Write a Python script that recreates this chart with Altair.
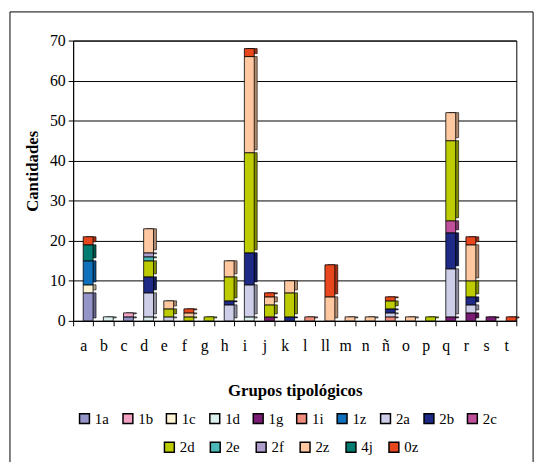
import altair as alt
import pandas as pd

categories = ["a", "b", "c", "d", "e", "f", "g", "h", "i", "j", "k", "l", "ll",
              "m", "n", "ñ", "o", "p", "q", "r", "s", "t"]
series = ["1a", "1b", "1c", "1d", "1g", "1i", "1z", "2a", "2b", "2c",
          "2d", "2e", "2f", "2z", "4j", "0z"]
colors = ["#9494C8", "#F2A2C4", "#FFF4D6", "#DDF1EE", "#7B1C74", "#F08C7C",
          "#1070BC", "#CECEE8", "#1E2A86", "#C0509C", "#BCCC00", "#4DB8B8",
          "#AE9CCB", "#FFC8A0", "#007C70", "#E8471E"]

#            a  b  c  d  e  f  g  h  i  j  k  l ll  m  n  ñ  o  p  q  r  s  t
v_1a = [7, 0, 1, 0, 0, 0, 0, 0, 0, 0, 0, 0, 0, 0, 0, 0, 0, 0, 0, 0, 0, 0]
v_1b = [0, 0, 1, 0, 0, 0, 0, 0, 0, 0, 0, 0, 0, 0, 0, 0, 0, 0, 0, 0, 0, 0]
v_1c = [2, 0, 0, 0, 0, 0, 0, 0, 0, 0, 0, 0, 0, 0, 0, 0, 0, 0, 0, 0, 0, 0]
v_1d = [0, 1, 0, 1, 0, 0, 0, 0, 1, 0, 0, 0, 0, 0, 0, 0, 0, 0, 0, 0, 0, 0]
v_1g = [0, 0, 0, 0, 0, 0, 0, 0, 0, 1, 0, 0, 0, 0, 0, 0, 0, 0, 1, 2, 1, 0]
v_1i = [0, 0, 0, 0, 0, 0, 0, 0, 0, 0, 0, 1, 0, 0, 0, 1, 0, 0, 0, 0, 0, 0]
v_1z = [6, 0, 0, 0, 0, 0, 0, 0, 0, 0, 0, 0, 0, 0, 0, 0, 0, 0, 0, 0, 0, 0]
v_2a = [0, 0, 0, 6, 1, 0, 0, 4, 8, 0, 0, 0, 0, 0, 0, 1, 0, 0, 12, 2, 0, 0]
v_2b = [0, 0, 0, 4, 0, 0, 0, 1, 8, 0, 1, 0, 0, 0, 0, 1, 0, 0, 9, 2, 0, 0]
v_2c = [0, 0, 0, 0, 0, 0, 0, 0, 0, 0, 0, 0, 0, 0, 0, 0, 0, 0, 3, 0, 0, 0]
v_2d = [0, 0, 0, 4, 2, 1, 1, 6, 25, 3, 6, 0, 0, 0, 0, 2, 0, 1, 20, 4, 0, 0]
v_2e = [0, 0, 0, 1, 0, 0, 0, 0, 0, 0, 0, 0, 0, 0, 0, 0, 0, 0, 0, 0, 0, 0]
v_2f = [0, 0, 0, 1, 0, 0, 0, 0, 0, 0, 0, 0, 0, 0, 0, 0, 0, 0, 0, 0, 0, 0]
v_2z = [0, 0, 0, 6, 2, 1, 0, 4, 24, 2, 3, 0, 6, 1, 1, 0, 1, 0, 7, 9, 0, 0]
v_4j = [4, 0, 0, 0, 0, 0, 0, 0, 0, 0, 0, 0, 0, 0, 0, 0, 0, 0, 0, 0, 0, 0]
v_0z = [2, 0, 0, 0, 0, 1, 0, 0, 2, 1, 0, 0, 8, 0, 0, 1, 0, 0, 0, 2, 0, 1]

values = [v_1a, v_1b, v_1c, v_1d, v_1g, v_1i, v_1z, v_2a, v_2b, v_2c,
          v_2d, v_2e, v_2f, v_2z, v_4j, v_0z]

rows = []
for si, s in enumerate(series):
    for ci, c in enumerate(categories):
        v = values[si][ci]
        if v > 0:
            rows.append({"cat": c, "serie": s, "orden": si, "valor": v})
df = pd.DataFrame(rows)

FONT = "Liberation Serif"
NA = 10
ser_a, col_a = series[:NA], colors[:NA]
ser_b, col_b = series[NA:], colors[NA:]

base = alt.Chart(df).transform_stack(
    stack="valor", groupby=["cat"], as_=["v0", "v1"],
    sort=[alt.SortField("orden", order="ascending")]
)

x_axis = alt.Axis(
    title="Grupos tipológicos", labelAngle=0, labelFont=FONT, labelFontSize=16,
    labelColor="black", tickBand="extent", tickSize=5, tickColor="black",
    domainColor="black", labelPadding=12, titleFont=FONT, titleFontSize=17,
    titleFontWeight="bold", titleColor="black", titlePadding=30,
)
y_axis = alt.Axis(
    values=[0, 10, 20, 30, 40, 50, 60, 70], title="Cantidades", grid=True,
    gridColor="black", gridWidth=1, domainColor="black", tickColor="black",
    tickSize=5, labelFont=FONT, labelFontSize=16, labelColor="black",
    labelPadding=3, titleFont=FONT, titleFontSize=17, titleFontWeight="bold",
    titleColor="black", titleX=-41, titleY=132, titleAlign="center",
    titleBaseline="middle", titleAngle=-90,
)

x_enc = alt.X("cat:N", sort=categories,
              scale=alt.Scale(paddingInner=0, paddingOuter=0), axis=x_axis)
y_enc = alt.Y("v0:Q", scale=alt.Scale(domain=[0, 70]), axis=y_axis)
y2_enc = alt.Y2("v1:Q")


def legend(lx, ly, cpad):
    return alt.Legend(
        orient="none", legendX=lx, legendY=ly, direction="horizontal",
        columns=10, gridAlign="none", title=None, symbolType="square",
        symbolSize=100, symbolStrokeColor="black", symbolStrokeWidth=1.5,
        symbolOpacity=1, labelFont=FONT, labelFontSize=15, labelColor="black",
        labelOffset=3, columnPadding=cpad, padding=0, labelLimit=30,
    )


def color_a(lg):
    return alt.Color("serie:N", scale=alt.Scale(domain=ser_a, range=col_a),
                     sort=ser_a, legend=lg)


def color_b(lg):
    return alt.Color("serie:N", scale=alt.Scale(domain=ser_b, range=col_b),
                     sort=ser_b, legend=lg)


filt_a = alt.datum.orden < NA
filt_b = alt.datum.orden >= NA

back_a = base.transform_filter(filt_a).mark_bar(
    width=10, xOffset=8, yOffset=-3, stroke="black", strokeWidth=0.6
).encode(x=x_enc, y=y_enc, y2=y2_enc, color=color_a(None))
back_b = base.transform_filter(filt_b).mark_bar(
    width=10, xOffset=8, yOffset=-3, stroke="black", strokeWidth=0.6
).encode(x=x_enc, y=y_enc, y2=y2_enc, color=color_b(None))
shade = base.mark_bar(
    width=10, xOffset=8, yOffset=-3, color="black", opacity=0.3
).encode(x=x_enc, y=y_enc, y2=y2_enc)
front_a = base.transform_filter(filt_a).mark_bar(
    width=10, xOffset=5, stroke="black", strokeWidth=0.8
).encode(x=x_enc, y=y_enc, y2=y2_enc, color=color_a(legend(4, 375.5, 10)))
front_b = base.transform_filter(filt_b).mark_bar(
    width=10, xOffset=5, stroke="black", strokeWidth=0.8
).encode(x=x_enc, y=y_enc, y2=y2_enc, color=color_b(legend(90, 404.5, 12.5)))

one = pd.DataFrame({"k": [0]})
frame_left = alt.Chart(one).mark_rule(color="black", strokeWidth=1).encode(
    x=alt.value(-64), y=alt.value(-29), y2=alt.value(430))
frame_top = alt.Chart(one).mark_rule(color="black", strokeWidth=1).encode(
    x=alt.value(-64), x2=alt.value(466), y=alt.value(-29))
frame_right = alt.Chart(one).mark_rule(color="black", strokeWidth=1).encode(
    x=alt.value(466), y=alt.value(-29), y2=alt.value(430))

chart = alt.layer(
    back_a, back_b, shade, front_a, front_b, frame_left, frame_top, frame_right
).resolve_scale(color="independent").properties(
    width=449, height=284,
    autosize=alt.AutoSizeParams(type="none"),
    padding={"left": 66, "top": 30, "right": 24, "bottom": 140},
    background="white",
).configure_view(stroke="black", strokeWidth=1)

chart.save("out.html", embed_options={"renderer": "svg", "actions": False})
